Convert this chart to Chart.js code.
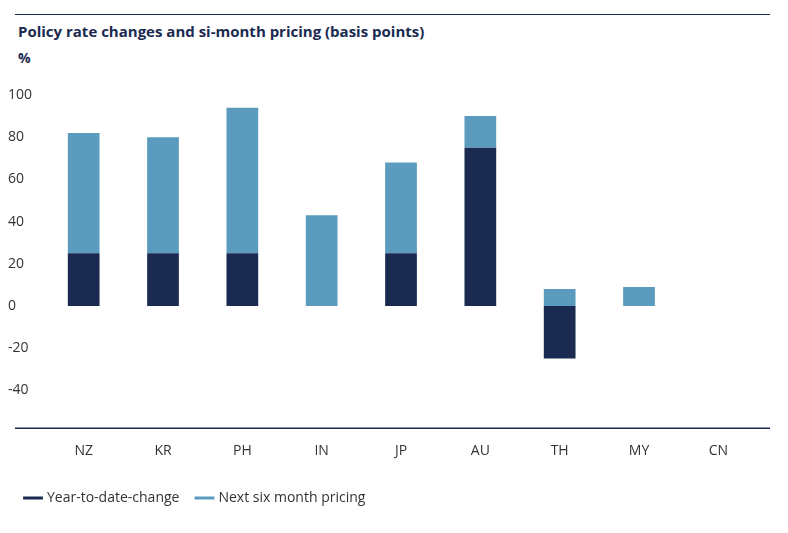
<!DOCTYPE html>
<html>
<head>
<meta charset="utf-8">
<script src="https://cdn.jsdelivr.net/npm/chart.js@4.4.0/dist/chart.umd.min.js"></script>
<style>
    body { margin: 0; background: #fff; font-family: "Open Sans", sans-serif; }
    #wrap { position: relative; width: 788px; height: 533px; }
    #topline { position: absolute; left: 15px; top: 14px; width: 755px; border-top: 1.5px solid #1b2a50; }
    #title { position: absolute; left: 18px; top: 21px; font-size: 15px; font-weight: bold; color: #1b2a50; }
    #unit { position: absolute; left: 18px; top: 48px; font-size: 14px; font-weight: bold; color: #1b2a50; }
    #box { position: absolute; left: 0; top: 60px; width: 788px; height: 455px; }
</style>
</head>
<body>
<div id="wrap">
    <div id="topline"></div>
    <div id="title">Policy rate changes and si-month pricing (basis points)</div>
    <div id="unit">%</div>
    <div id="box"><canvas id="rateChart"></canvas></div>
</div>
<script>
const labels = ['NZ', 'KR', 'PH', 'IN', 'JP', 'AU', 'TH', 'MY', 'CN'];
const ytd = [25, 25, 25, 0, 25, 75, -25, 0, 0];
const nextSix = [57, 55, 69, 43, 43, 15, 8, 9, 0];

// bottom rule under the plot area
const bottomLine = {
    id: 'bottomLine',
    afterDraw(chart) {
        const { ctx, chartArea } = chart;
        ctx.save();
        ctx.strokeStyle = '#1b2a50';
        ctx.lineWidth = 1.5;
        ctx.beginPath();
        ctx.moveTo(15, chartArea.bottom);
        ctx.lineTo(770, chartArea.bottom);
        ctx.stroke();
        ctx.restore();
    }
};

new Chart(document.getElementById('rateChart'), {
    type: 'bar',
    data: {
        labels: labels,
        datasets: [
            { label: 'Year-to-date-change', data: ytd, backgroundColor: '#1b2a50', stack: 's', barPercentage: 0.4, categoryPercentage: 1 },
            { label: 'Next six month pricing', data: nextSix, backgroundColor: '#5b9bbd', stack: 's', barPercentage: 0.4, categoryPercentage: 1 }
        ]
    },
    options: {
        responsive: true,
        maintainAspectRatio: false,
        animation: false,
        layout: { padding: { top: 35, right: 30, left: 8 } },
        scales: {
            x: {
                stacked: true,
                grid: { display: false, drawTicks: false },
                border: { display: false },
                ticks: { color: '#333', font: { family: 'Open Sans', size: 14 }, padding: 14 }
            },
            y: {
                stacked: true,
                min: -58,
                max: 100,
                afterBuildTicks: axis => {
                    axis.ticks = [-40, -20, 0, 20, 40, 60, 80, 100].map(v => ({ value: v }));
                },
                grid: { display: false, drawTicks: false },
                border: { display: false },
                ticks: { color: '#333', font: { family: 'Open Sans', size: 14 }, crossAlign: 'far', padding: 6 }
            }
        },
        plugins: {
            legend: {
                position: 'bottom',
                align: 'start',
                labels: {
                    usePointStyle: true,
                    boxWidth: 24,
                    padding: 18,
                    color: '#333',
                    font: { family: 'Open Sans', size: 14 },
                    generateLabels: chart => chart.data.datasets.map((ds, i) => ({
                        text: ds.label,
                        pointStyle: 'line',
                        strokeStyle: ds.backgroundColor,
                        fillStyle: ds.backgroundColor,
                        lineWidth: 3,
                        fontColor: '#333',
                        datasetIndex: i
                    }))
                }
            },
            tooltip: { enabled: false }
        }
    },
    plugins: [bottomLine]
});
</script>
</body>
</html>
